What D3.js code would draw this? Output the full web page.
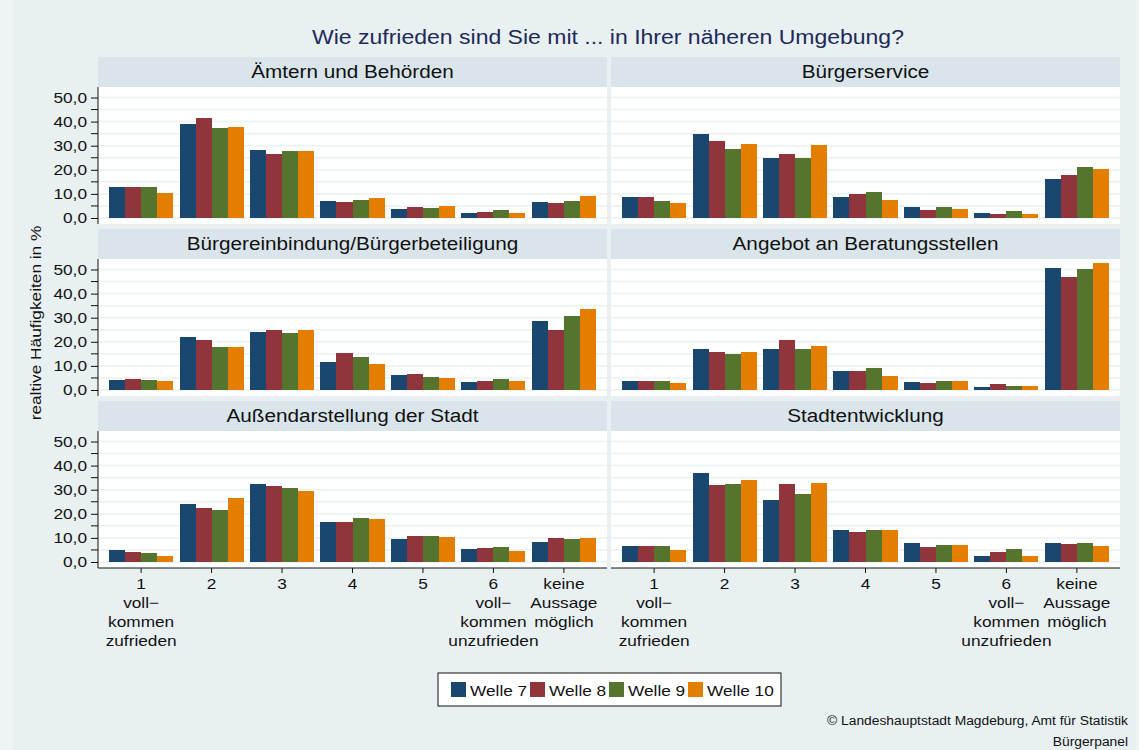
<!DOCTYPE html>
<html>
<head>
<meta charset="utf-8">
<script src="https://cdn.jsdelivr.net/npm/d3@7"></script>
<style>
  body { margin: 0; background: #eef4f5; }
  svg { display: block; font-family: "Liberation Sans", Arial, sans-serif; }
</style>
</head>
<body>
<div id="vis-container"></div>
<script>
// Kategorien, Wellen und Werte (relative Häufigkeiten in %)
var categories = ["1", "2", "3", "4", "5", "6", "keine"];
var catLabels = [
	["1", "voll−", "kommen", "zufrieden"],
	["2"], ["3"], ["4"], ["5"],
	["6", "voll−", "kommen", "unzufrieden"],
	["keine", "Aussage", "möglich"]
];
var waves = ["Welle 7", "Welle 8", "Welle 9", "Welle 10"];
var waveColors = ["#1a476f", "#90353b", "#55752f", "#e37e00"];
var panelTitles = [
	"Ämtern und Behörden", "Bürgerservice",
	"Bürgereinbindung/Bürgerbeteiligung", "Angebot an Beratungsstellen",
	"Außendarstellung der Stadt", "Stadtentwicklung"
];
var yTicks = [0, 10, 20, 30, 40, 50];

// je Kategorie: [Welle 7, Welle 8, Welle 9, Welle 10]
var aemter = [[12.7, 12.7, 12.7, 10.5], [39.2, 41.3, 37.5, 37.9], [28.4, 26.7, 28.0, 27.6],
	[7.2, 6.8, 7.6, 8.4], [3.9, 4.7, 4.3, 5.1], [2.2, 2.6, 3.5, 2.2], [6.8, 6.4, 7.2, 9.3]];
var buergerservice = [[8.9, 8.9, 7.2, 6.4], [35.0, 32.1, 28.8, 30.9], [24.7, 26.7, 24.7, 30.1],
	[8.9, 10.1, 10.9, 7.6], [4.7, 3.5, 4.7, 3.9], [2.2, 1.8, 3.0, 1.8], [16.3, 18.0, 21.3, 20.5]];
var einbindung = [[4.2, 4.6, 4.2, 3.8], [22.1, 20.8, 17.9, 17.9], [24.2, 25.0, 23.8, 25.0],
	[11.7, 15.4, 13.8, 10.8], [6.3, 6.7, 5.4, 5.0], [3.3, 3.8, 4.6, 3.8], [28.8, 25.0, 30.8, 33.8]];
var beratung = [[3.8, 3.8, 3.8, 2.9], [17.1, 15.8, 15.0, 15.8], [17.1, 20.8, 17.1, 18.3],
	[7.9, 7.9, 9.2, 5.8], [3.3, 2.9, 3.8, 3.8], [1.3, 2.5, 1.7, 1.7], [50.8, 46.7, 50.4, 52.5]];
var aussen = [[5.0, 4.2, 3.8, 2.5], [24.2, 22.5, 21.7, 26.7], [32.5, 31.7, 30.8, 29.6],
	[16.7, 16.7, 18.3, 17.9], [9.6, 10.8, 10.8, 10.4], [5.4, 5.8, 6.3, 4.6], [8.3, 10.0, 9.6, 10.0]];
var stadtentw = [[6.7, 6.7, 6.7, 5.0], [37.1, 32.1, 32.5, 34.2], [25.8, 32.5, 28.3, 32.9],
	[13.3, 12.5, 13.3, 13.3], [7.9, 6.3, 7.1, 7.1], [2.5, 4.2, 5.4, 2.5], [7.9, 7.5, 7.9, 6.7]];
var panelData = [aemter, buergerservice, einbindung, beratung, aussen, stadtentw];

var width = 1139, height = 750;
var colX = [98, 611];
var panelW = 509;
var rowZero = [218, 390, 562];   // y-Position von 0,0 je Zeile

// Schrift im Original ist etwas breiter laufend
function stretch(sel) {
	sel.each(function () {
		var len = this.getComputedTextLength();
		d3.select(this)
			.attr("textLength", len * 1.15)
			.attr("lengthAdjust", "spacingAndGlyphs");
	});
}

var svg = d3.select("#vis-container")
	.append("svg")
	.attr("width", width)
	.attr("height", height);

// Hintergrund
svg.append("rect").attr("width", width).attr("height", height).attr("fill", "#eef4f5");
svg.append("rect")
	.attr("x", 13).attr("y", 0).attr("width", 1123).attr("height", height)
	.attr("fill", "#e8f0f2");

// Titel
svg.append("text")
	.attr("x", 608).attr("y", 44)
	.attr("text-anchor", "middle")
	.style("font-size", "20px")
	.attr("fill", "#1e2a58")
	.text("Wie zufrieden sind Sie mit ... in Ihrer näheren Umgebung?")
	.call(stretch);

// Y-Achsenbeschriftung
svg.append("text")
	.attr("transform", "translate(41,323) rotate(-90)")
	.attr("text-anchor", "middle")
	.style("font-size", "15px")
	.attr("fill", "#111")
	.text("realtive Häufigkeiten in %")
	.call(stretch);

var xScale = d3.scaleBand().domain(categories).paddingInner(0.09).paddingOuter(0.157);
var waveScale = d3.scaleBand().domain(waves).padding(0);

panelData.forEach(function (data, i) {
	var col = i % 2, row = Math.floor(i / 2);
	var x0 = colX[col], y0 = rowZero[row];
	var yScale = d3.scaleLinear().domain([0, 50]).range([y0, y0 - 120.5]);
	xScale.range([x0, x0 + panelW]);
	waveScale.range([0, xScale.bandwidth()]);

	var g = svg.append("g");

	// Kopfzeile
	g.append("rect")
		.attr("x", x0).attr("y", y0 - 161)
		.attr("width", panelW).attr("height", 30)
		.attr("fill", "#d9e5eb");
	g.append("text")
		.attr("x", x0 + panelW / 2).attr("y", y0 - 140)
		.attr("text-anchor", "middle")
		.style("font-size", "18px")
		.attr("fill", "#111")
		.text(panelTitles[i])
		.call(stretch);

	// Zeichenfläche
	g.append("rect")
		.attr("x", x0).attr("y", y0 - 131)
		.attr("width", panelW).attr("height", 137)
		.attr("fill", "#ffffff");

	// Gitterlinien alle 5 Einheiten
	g.append("g")
		.selectAll("line")
		.data(d3.range(0, 55, 5))
		.join("line")
		.attr("x1", x0).attr("x2", x0 + panelW)
		.attr("y1", function (d) { return yScale(d); })
		.attr("y2", function (d) { return yScale(d); })
		.attr("stroke", "#eaf2f3")
		.attr("stroke-width", 1.5);

	// Balken
	g.append("g")
		.selectAll("g")
		.data(data)
		.join("g")
		.attr("transform", function (d, k) { return "translate(" + xScale(categories[k]) + ",0)"; })
		.selectAll("rect")
		.data(function (d) { return d; })
		.join("rect")
		.attr("x", function (d, j) { return waveScale(waves[j]); })
		.attr("y", function (d) { return yScale(d); })
		.attr("width", waveScale.bandwidth())
		.attr("height", function (d) { return y0 - yScale(d); })
		.attr("fill", function (d, j) { return waveColors[j]; })
		.attr("shape-rendering", "crispEdges");

	// Y-Achse nur in der linken Spalte
	if (col === 0) {
		var yAxis = g.append("g")
			.attr("transform", "translate(" + x0 + ",0)")
			.call(d3.axisLeft(yScale)
				.tickValues(yTicks)
				.tickSize(7)
				.tickPadding(4)
				.tickFormat(function (d) { return d.toFixed(1).replace(".", ","); }));
		yAxis.select(".domain").attr("d", "M0," + (y0 + 6) + "V" + (y0 - 131)).attr("stroke", "#111");
		yAxis.selectAll("text")
			.style("font-size", "15px")
			.style("font-family", "Liberation Sans, Arial, sans-serif")
			.attr("fill", "#111")
			.call(stretch);
		yAxis.selectAll("line").attr("stroke", "#111");
		// Zwischenstriche
		yAxis.append("g")
			.selectAll("line")
			.data(d3.range(5, 50, 10))
			.join("line")
			.attr("x1", -7).attr("x2", 0)
			.attr("y1", function (d) { return yScale(d); })
			.attr("y2", function (d) { return yScale(d); })
			.attr("stroke", "#111");
	}

	// X-Achse nur in der unteren Zeile
	if (row === 2) {
		var xAxis = g.append("g")
			.attr("transform", "translate(0," + (y0 + 6) + ")")
			.call(d3.axisBottom(xScale).tickSize(5).tickFormat(""));
		xAxis.select(".domain").attr("d", "M" + x0 + ",0H" + (x0 + panelW)).attr("stroke", "#111");
		xAxis.selectAll("line").attr("stroke", "#111");
		xAxis.selectAll(".tick")
			.selectAll("text.lbl")
			.data(function (d) { return catLabels[categories.indexOf(d)]; })
			.join("text")
			.attr("class", "lbl")
			.attr("x", 0)
			.attr("y", function (d, j) { return 21 + j * 19; })
			.attr("text-anchor", "middle")
			.attr("fill", "#111")
			.style("font-size", "15px")
			.style("font-family", "Liberation Sans, Arial, sans-serif")
			.text(function (d) { return d; })
			.call(stretch);
	}
});

// Legende
var legend = svg.append("g").attr("transform", "translate(438,673)");
legend.append("rect")
	.attr("width", 343).attr("height", 33)
	.attr("fill", "#ffffff")
	.attr("stroke", "#111").attr("stroke-width", 1);
var legendX = [13, 92, 171, 250];
waves.forEach(function (w, j) {
	legend.append("rect")
		.attr("x", legendX[j]).attr("y", 9)
		.attr("width", 15).attr("height", 15)
		.attr("fill", waveColors[j]);
	legend.append("text")
		.attr("x", legendX[j] + 19).attr("y", 23)
		.style("font-size", "15px")
		.attr("fill", "#111")
		.text(w)
		.call(stretch);
});

// Quelle
svg.append("text")
	.attr("x", 1128).attr("y", 725)
	.attr("text-anchor", "end")
	.style("font-size", "12px")
	.attr("fill", "#111")
	.text("© Landeshauptstadt Magdeburg, Amt für Statistik")
	.call(stretch);
svg.append("text")
	.attr("x", 1128).attr("y", 746)
	.attr("text-anchor", "end")
	.style("font-size", "12px")
	.attr("fill", "#111")
	.text("Bürgerpanel")
	.call(stretch);
</script>
</body>
</html>
